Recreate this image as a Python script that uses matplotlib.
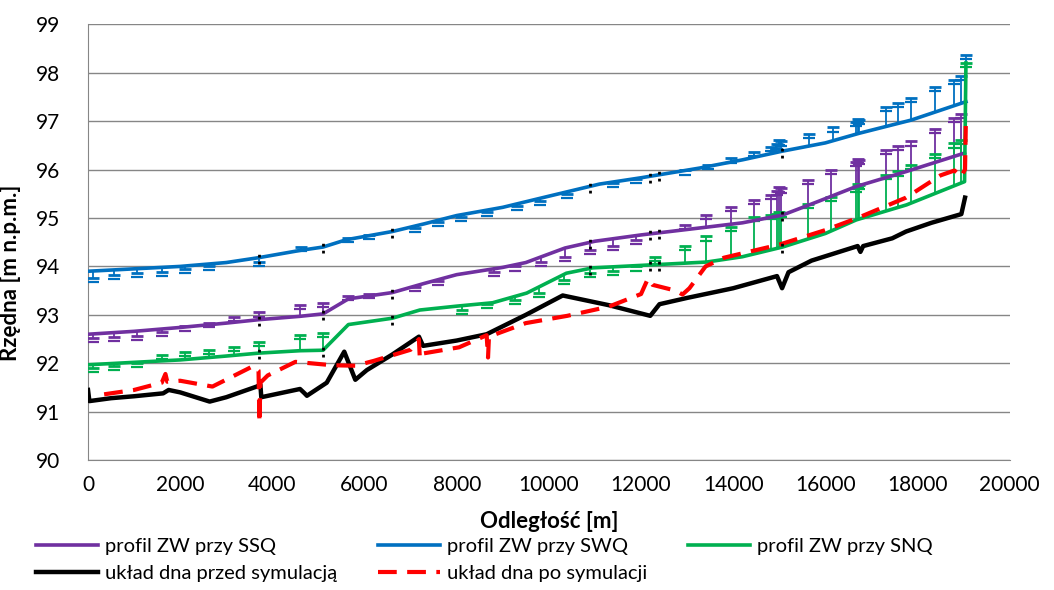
import matplotlib
matplotlib.use("Agg")
import matplotlib.pyplot as plt
import matplotlib.transforms as mtransforms
import numpy as np

plt.rcParams['font.family'] = ['Lato', 'DejaVu Sans']

# profil ZW przy SWQ
x_swq = [0, 1000, 2000, 3000, 3700, 4600, 5100, 5600, 6600, 7300, 8000, 9000, 10000, 11100,
         12000, 13270, 14200, 15070, 16000, 16740, 17860, 19050]
y_swq = [93.9, 93.95, 94.0, 94.08, 94.18, 94.33, 94.4, 94.55, 94.72, 94.88, 95.05, 95.22, 95.45, 95.7,
         95.83, 96.03, 96.2, 96.38, 96.55, 96.75, 97.02, 97.4]

# profil ZW przy SSQ
x_ssq = [0, 1000, 2000, 3000, 3700, 4600, 5100, 5650, 6600, 7300, 8000, 9000, 9500, 10350, 11000,
         12000, 13420, 14200, 15070, 15840, 16670, 17760, 19020]
y_ssq = [92.6, 92.66, 92.74, 92.83, 92.9, 92.97, 93.02, 93.33, 93.46, 93.65, 93.83, 93.98, 94.08, 94.38, 94.52,
         94.65, 94.81, 94.9, 95.06, 95.34, 95.65, 95.96, 96.34]

# profil ZW przy SNQ
x_snq = [0, 1000, 2000, 3000, 3700, 4600, 5100, 5650, 6600, 7200, 8000, 8780, 9520, 10380, 10950,
         12180, 13420, 14200, 15070, 16000, 16670, 17760, 19020, 19050]
y_snq = [91.97, 92.02, 92.07, 92.15, 92.21, 92.26, 92.27, 92.8, 92.93, 93.1, 93.18, 93.25, 93.45, 93.86, 93.97,
         94.03, 94.09, 94.2, 94.4, 94.68, 94.96, 95.27, 95.75, 98.2]

# uklad dna przed symulacja
x_przed = [0, 30, 500, 1000, 1630, 1750, 2000, 2640, 3000, 3660, 3740, 3760, 4600, 4700, 4750, 5180,
           5560, 5800, 6050, 6600, 7180, 7270, 8000, 8650, 9500, 10300, 11300, 12200, 12400, 13000,
           14000, 14950, 15060, 15200, 15700, 16700, 16760, 16820, 17450, 17750, 18300, 18950, 19030]
y_przed = [91.45, 91.22, 91.28, 91.32, 91.38, 91.45, 91.4, 91.21, 91.3, 91.52, 91.56, 91.3, 91.47, 91.38, 91.33, 91.6,
           92.24, 91.66, 91.86, 92.18, 92.55, 92.36, 92.47, 92.6, 93.0, 93.4, 93.2, 92.98, 93.22, 93.35,
           93.55, 93.8, 93.55, 93.88, 94.12, 94.42, 94.3, 94.42, 94.58, 94.72, 94.9, 95.08, 95.42]

# uklad dna po symulacji
x_po = [350, 1000, 1600, 1680, 1720, 2000, 2700, 3600, 3700, 3720, 3740, 3900, 4500, 5300, 5800, 6200,
        7000, 7180, 7200, 7250, 8050, 8650, 8680, 8700, 9500, 10400, 11300, 12000, 12150, 12250, 12750,
        12900, 13050, 13400, 13800, 15000, 16000, 16700, 17750, 18500, 18800, 18950, 19000, 19030, 19050]
y_po = [91.36, 91.45, 91.6, 91.78, 91.62, 91.64, 91.52, 91.95, 91.85, 90.77, 91.6, 91.75, 92.03, 91.96, 91.95, 92.05,
        92.28, 92.5, 92.1, 92.2, 92.33, 92.58, 92.12, 92.55, 92.83, 92.98, 93.17, 93.43, 93.75, 93.62, 93.5,
        93.42, 93.55, 94.0, 94.18, 94.45, 94.75, 95.0, 95.42, 95.88, 95.98, 95.85, 95.95, 96.0, 97.1]

# znaczniki (obiekty) na profilach
mk_swq_x = [100, 560, 1070, 1610, 2110, 2620, 3700, 4630, 5640, 6100, 7100, 7600, 8100, 8650, 9300, 9800,
            10400, 11390, 11900, 12945, 13450, 13960, 14460, 14820, 14960, 15000, 15040, 15650, 16160,
            16660, 16700, 16740, 17320, 17570, 17860, 18370, 18800, 18940, 19050]
mk_swq_y = [93.76, 93.82, 93.86, 93.89, 93.94, 94.01, 94.1, 94.41, 94.58, 94.65, 94.8, 94.92, 95.03, 95.13, 95.25, 95.36,
            95.5, 95.72, 95.8, 95.98, 96.1, 96.23, 96.37, 96.47, 96.52, 96.6, 96.58, 96.74, 96.87,
            96.98, 97.04, 97.02, 97.3, 97.38, 97.47, 97.7, 97.85, 97.93, 98.37]

mk_ssq_x = [100, 560, 1070, 1610, 2110, 2620, 3160, 3700, 4590, 5090, 5640, 6100, 7100, 7600, 8810, 9270,
            9820, 10360, 10900, 11390, 11900, 12945, 13415, 13960, 14460, 14820, 14960, 15000, 15040, 15620,
            16125, 16660, 16700, 16740, 17320, 17570, 17860, 18370, 18800, 18940]
mk_ssq_y = [92.52, 92.54, 92.57, 92.65, 92.76, 92.84, 92.95, 93.05, 93.2, 93.25, 93.39, 93.43, 93.58, 93.7, 93.89, 94.0,
            94.1, 94.2, 94.34, 94.42, 94.55, 94.86, 95.06, 95.23, 95.37, 95.48, 95.55, 95.63, 95.61, 95.79,
            95.99, 96.15, 96.22, 96.2, 96.41, 96.49, 96.58, 96.83, 97.06, 97.15]

mk_snq_x = [100, 560, 1070, 1610, 2110, 2620, 3160, 3700, 4590, 5090, 8115, 8660, 9270, 9780, 10320, 10900,
            11400, 11900, 12300, 12945, 13415, 13960, 14460, 14820, 14960, 15000, 15040, 15620, 16125,
            16660, 16700, 16740, 17320, 17570, 17860, 18370, 18800, 18940, 19050]
mk_snq_y = [91.9, 91.95, 92.01, 92.17, 92.24, 92.28, 92.34, 92.45, 92.59, 92.62, 93.1, 93.23, 93.31, 93.45, 93.72, 93.86,
            93.91, 94.0, 94.2, 94.42, 94.62, 94.81, 95.02, 95.06, 95.08, 95.13, 95.11, 95.29, 95.43,
            95.62, 95.7, 95.68, 95.89, 95.96, 96.1, 96.32, 96.54, 96.61, 98.2]

# przekroje zaznaczone na czarno
dot_x = [3700, 5090, 6600, 10900, 12190, 12400, 15060]

c_ssq = '#7030A0'
c_swq = '#0070C0'
c_snq = '#00B050'

fig, ax = plt.subplots(figsize=(10.54, 5.90), dpi=100)
fig.subplots_adjust(left=0.0835, right=0.958, top=0.959, bottom=0.22)

ax.set_xlim(0, 20000)
ax.set_ylim(90, 99)
ax.set_xticks(np.arange(0, 20001, 2000))
ax.set_yticks(np.arange(90, 100, 1))
ax.grid(axis='y', color='#868686', lw=1)
ax.set_axisbelow(True)
for s in ['top', 'right']:
    ax.spines[s].set_visible(False)
for s in ['left', 'bottom']:
    ax.spines[s].set_color('#868686')
ax.tick_params(length=0, labelsize=15, pad=11)
ax.tick_params(axis='y', pad=20)

cap_low = mtransforms.offset_copy(ax.transData, fig=fig, y=-3, units='points')


def markers(lx, ly, mx, my, col):
    base = np.interp(mx, lx, ly)
    ax.vlines(mx, base, my, color=col, lw=1.3, zorder=3)
    ax.plot(mx, my, ls='none', marker='_', ms=8, mew=2, color=col, zorder=3)
    ax.plot(mx, my, ls='none', marker='_', ms=8, mew=1.6, color=col, zorder=3, transform=cap_low)


l1, = ax.plot(x_ssq, y_ssq, color=c_ssq, lw=2.6, zorder=4)
l2, = ax.plot(x_swq, y_swq, color=c_swq, lw=2.6, zorder=4)
l3, = ax.plot(x_snq, y_snq, color=c_snq, lw=2.6, zorder=4)
l4, = ax.plot(x_przed, y_przed, color='black', lw=3.2, zorder=4)
l5, = ax.plot(x_po, y_po, color='#FF0000', lw=3, ls=(0, (4.5, 2.5)), zorder=5)

markers(x_swq, y_swq, mk_swq_x, mk_swq_y, c_swq)
markers(x_ssq, y_ssq, mk_ssq_x, mk_ssq_y, c_ssq)
markers(x_snq, y_snq, mk_snq_x, mk_snq_y, c_snq)

for lx, ly in [(x_swq, y_swq), (x_ssq, y_ssq), (x_snq, y_snq)]:
    yy = np.interp(dot_x, lx, ly)
    ax.vlines(dot_x, yy - 0.13, yy + 0.13, color='black', lw=2, ls=(0, (1, 1.5)), zorder=6)

ax.set_xlabel('Odległość [m]', fontsize=16, fontweight='bold', labelpad=11)
ax.set_ylabel('Rzędna [m n.p.m.]', fontsize=16, fontweight='bold')
ax.yaxis.set_label_coords(-0.073, 0.43)

fig.legend([l1, l4, l2, l5, l3],
           ['profil ZW przy SSQ', 'układ dna przed symulacją', 'profil ZW przy SWQ',
            'układ dna po symulacji', 'profil ZW przy SNQ'],
           ncol=3, loc='upper left', bbox_to_anchor=(0.034, 0.088), frameon=False,
           fontsize=14.5, handlelength=3.1, handletextpad=0.35, columnspacing=2.0,
           labelspacing=0.5, borderpad=0, borderaxespad=0)

plt.savefig('out.png', dpi=100)
